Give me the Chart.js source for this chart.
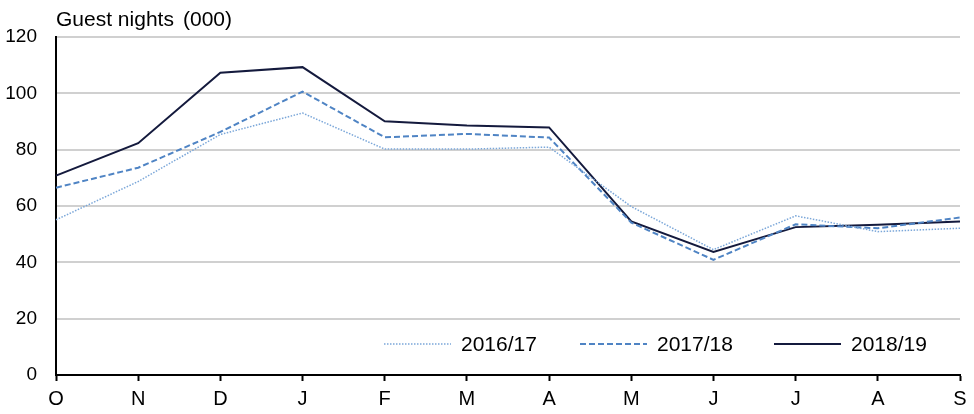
<!DOCTYPE html>
<html>
<head>
<meta charset="utf-8">
<script src="https://cdn.jsdelivr.net/npm/chart.js"></script>
<style>
  html, body { margin: 0; padding: 0; background: #fff; }
  #wrap { width: 974px; height: 414px; position: relative; }
</style>
</head>
<body>
<div id="wrap"><canvas id="myChart"></canvas></div>

<script>
const labels = ['O', 'N', 'D', 'J', 'F', 'M', 'A', 'M', 'J', 'J', 'A', 'S'];
const seriesNames = ['2016/17', '2017/18', '2018/19'];
const values1617 = [55.1, 68.7, 85.4, 93.0, 80.2, 80.2, 80.9, 59.8, 44.5, 56.5, 50.9, 52.1];
const values1718 = [66.5, 73.6, 86.3, 100.6, 84.4, 85.6, 84.3, 54.1, 40.9, 53.5, 52.1, 55.9];
const values1819 = [70.8, 82.3, 107.3, 109.3, 90.1, 88.6, 87.9, 54.5, 43.7, 52.5, 53.3, 54.5];
const yTicks = [0, 20, 40, 60, 80, 100, 120];

const FONT = "'Liberation Sans', Arial, sans-serif";

// title + in-plot legend
const extras = {
  id: 'extras',
  afterDraw(chart) {
    const ctx = chart.ctx;
    ctx.save();
    ctx.fillStyle = '#000';
    ctx.font = '21px ' + FONT;
    ctx.textBaseline = 'middle';
    ctx.textAlign = 'left';
    ctx.fillText('Guest nights', 56, 20);
    ctx.fillText('(000)', 183, 20);

    const starts = [384, 580, 774];
    const y = 344;
    chart.data.datasets.forEach(function (ds, i) {
      const x = starts[i];
      ctx.beginPath();
      ctx.strokeStyle = ds.borderColor;
      ctx.lineWidth = ds.borderWidth;
      ctx.setLineDash(ds.borderDash || []);
      ctx.moveTo(x, y);
      ctx.lineTo(x + 67, y);
      ctx.stroke();
      ctx.setLineDash([]);
      ctx.fillStyle = '#000';
      ctx.fillText(ds.label, x + 77, y + 1);
    });
    ctx.restore();
  }
};

const data = {
  labels: labels,
  datasets: [{
    label: seriesNames[0],
    data: values1617,
    borderColor: '#7ba7d9',
    borderWidth: 1.5,
    borderDash: [1.5, 1.5],
    pointRadius: 0,
    fill: false,
    tension: 0
  }, {
    label: seriesNames[1],
    data: values1718,
    borderColor: '#4f84c4',
    borderWidth: 2,
    borderDash: [6, 3],
    pointRadius: 0,
    fill: false,
    tension: 0
  }, {
    label: seriesNames[2],
    data: values1819,
    borderColor: '#141a3d',
    borderWidth: 2,
    pointRadius: 0,
    fill: false,
    tension: 0
  }]
};

const config = {
  type: 'line',
  data: data,
  plugins: [extras],
  options: {
    responsive: false,
    animation: false,
    layout: { padding: { top: 37, right: 14, left: 0, bottom: 0 } },
    plugins: {
      legend: { display: false },
      tooltip: { enabled: false }
    },
    scales: {
      x: {
        offset: false,
        grid: {
          drawOnChartArea: false,
          drawTicks: true,
          tickLength: 6,
          tickWidth: 2,
          color: '#000'
        },
        border: { display: true, color: '#000', width: 2 },
        ticks: {
          color: '#000',
          font: { family: FONT, size: 20 },
          padding: 6,
          maxRotation: 0,
          autoSkip: false
        },
        afterFit: function (scale) { scale.height = 39; }
      },
      y: {
        min: 0,
        max: 120,
        afterBuildTicks: function (scale) {
          scale.ticks = yTicks.map(function (v) { return { value: v }; });
        },
        grid: {
          color: function (c) { return c.tick && c.tick.value === 0 ? 'rgba(0,0,0,0)' : '#d0d0d0'; },
          lineWidth: 2,
          drawTicks: false
        },
        border: { display: true, color: '#000', width: 2 },
        ticks: {
          color: '#000',
          font: { family: FONT, size: 19 },
          padding: 19
        },
        afterFit: function (scale) { scale.width = 56; }
      }
    }
  }
};

const cv = document.getElementById('myChart');
cv.width = 974;
cv.height = 414;
var myChart = new Chart(cv, config);
</script>
</body>
</html>
